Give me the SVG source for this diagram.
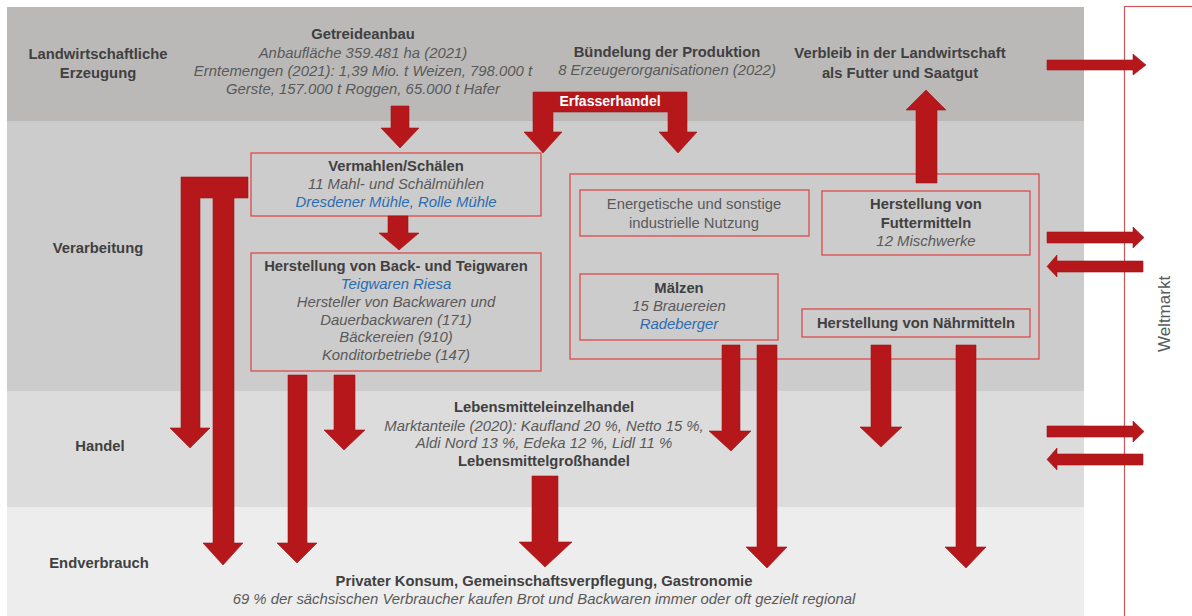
<svg xmlns="http://www.w3.org/2000/svg" width="1192" height="616" viewBox="0 0 1192 616">
<style>
text{font-family:"Liberation Sans",Arial,sans-serif;font-size:14.8px;text-anchor:middle}
.b{font-weight:bold;fill:#404040}
.i{font-style:italic;fill:#595959;font-size:14.9px}
.r{fill:#595959}
.bl{font-style:italic;fill:#2a6db0;font-size:14.9px}
.w{font-weight:bold;fill:#ffffff;font-size:14px}
.box{fill:none;stroke:#de4a4a;stroke-width:1.3}
.arr{fill:#b5171b;stroke:#9e1417;stroke-width:0.6}
</style>
<rect x="0" y="0" width="1192" height="616" fill="#ffffff"/>
<g id="bands">
<rect x="7" y="7" width="1077" height="114" fill="#bab9b8"/>
<rect x="7" y="121" width="1077" height="270" fill="#cdcccc"/>
<rect x="7" y="391" width="1077" height="116" fill="#dcdcdc"/>
<rect x="7" y="507" width="1077" height="109" fill="#ededed"/>
</g>
<g id="weltmarkt">
<rect x="1124.5" y="6.5" width="120" height="700" fill="none" stroke="#c9585a" stroke-width="1.2"/>
<text class="r" transform="translate(1170,314) rotate(-90)" style="font-size:17px">Weltmarkt</text>
</g>
<g id="labels">
<text class="b" x="98" y="59">Landwirtschaftliche</text>
<text class="b" x="98" y="78">Erzeugung</text>
<text class="b" x="98" y="253">Verarbeitung</text>
<text class="b" x="100" y="451">Handel</text>
<text class="b" x="99" y="568">Endverbrauch</text>
</g>
<g id="getreideanbau">
<text class="b" x="363" y="39">Getreideanbau</text>
<text class="i" x="363" y="58">Anbaufläche 359.481 ha (2021)</text>
<text class="i" x="363" y="76">Erntemengen (2021): 1,39 Mio. t Weizen, 798.000 t</text>
<text class="i" x="363" y="94">Gerste, 157.000 t Roggen, 65.000 t Hafer</text>
</g>
<g id="buendelung">
<text class="b" x="667" y="57">Bündelung der Produktion</text>
<text class="i" x="667" y="75">8 Erzeugerorganisationen (2022)</text>
</g>
<g id="verbleib">
<text class="b" x="900" y="58">Verbleib in der Landwirtschaft</text>
<text class="b" x="900" y="78">als Futter und Saatgut</text>
</g>
<g id="vermahlen">
<rect class="box" x="251" y="153" width="290" height="63"/>
<text class="b" x="396" y="171">Vermahlen/Schälen</text>
<text class="i" x="396" y="189">11 Mahl- und Schälmühlen</text>
<text class="bl" x="396" y="207">Dresdener Mühle, Rolle Mühle</text>
</g>
<g id="backwaren">
<rect class="box" x="251" y="253" width="290" height="118"/>
<text class="b" x="396" y="271">Herstellung von Back- und Teigwaren</text>
<text class="bl" x="396" y="289">Teigwaren Riesa</text>
<text class="i" x="396" y="307">Hersteller von Backwaren und</text>
<text class="i" x="396" y="325">Dauerbackwaren (171)</text>
<text class="i" x="396" y="342">Bäckereien (910)</text>
<text class="i" x="396" y="360">Konditorbetriebe (147)</text>
</g>
<g id="verarbeitung-rechts">
<rect class="box" x="570" y="174" width="469" height="185"/>
</g>
<g id="energetisch">
<rect class="box" x="580" y="190" width="229" height="46"/>
<text class="r" x="694" y="209">Energetische und sonstige</text>
<text class="r" x="694" y="228">industrielle Nutzung</text>
</g>
<g id="futtermittel">
<rect class="box" x="822" y="191" width="208" height="64"/>
<text class="b" x="926" y="209">Herstellung von</text>
<text class="b" x="926" y="228">Futtermitteln</text>
<text class="i" x="926" y="246">12 Mischwerke</text>
</g>
<g id="maelzen">
<rect class="box" x="580" y="274" width="198" height="66"/>
<text class="b" x="679" y="293">Mälzen</text>
<text class="i" x="679" y="311">15 Brauereien</text>
<text class="bl" x="679" y="329">Radeberger</text>
</g>
<g id="naehrmittel">
<rect class="box" x="802" y="309" width="228" height="28"/>
<text class="b" x="916" y="328">Herstellung von Nährmitteln</text>
</g>
<g id="handel">
<text class="b" x="544" y="412">Lebensmitteleinzelhandel</text>
<text class="i" x="544" y="431">Marktanteile (2020): Kaufland 20 %, Netto 15 %,</text>
<text class="i" x="544" y="448">Aldi Nord 13 %, Edeka 12 %, Lidl 11 %</text>
<text class="b" x="544" y="466">Lebensmittelgroßhandel</text>
</g>
<g id="endverbrauch">
<text class="b" x="544" y="586">Privater Konsum, Gemeinschaftsverpflegung, Gastronomie</text>
<text class="i" x="544" y="604">69 % der sächsischen Verbraucher kaufen Brot und Backwaren immer oder oft gezielt regional</text>
</g>
<g id="connectors">
<polygon class="arr" points="391,106 409,106 409,128 419,128 400,148 381,128 391,128"/>
<polygon class="arr" points="533,92 687,92 687,132 697,132 678,153 659,132 668,132 668,112 553,112 553,132 562,132 543,153 524,132 533,132"/>
<polygon class="arr" points="388,216 408,216 408,233 419,233 399,250 379,233 388,233"/>
<polygon class="arr" points="181,177 248,177 248,198 234,198 234,543 243,543 223,565 203,543 213,543 213,198 200,198 200,428 210,428 190,448 170,428 181,428"/>
<polygon class="arr" points="288,375 307,375 307,543 317,543 297,563 277,543 288,543"/>
<polygon class="arr" points="334,375 355,375 355,430 365,430 344,450 324,430 334,430"/>
<polygon class="arr" points="532,476 558,476 558,542 572,542 545,567 519,542 532,542"/>
<polygon class="arr" points="916,183 937,183 937,110 946,110 926,90 906,110 916,110"/>
<polygon class="arr" points="722,345 740,345 740,431 751,431 731,451 709,431 722,431"/>
<polygon class="arr" points="757,345 777,345 777,547 787,547 767,568 746,547 757,547"/>
<polygon class="arr" points="871,345 891,345 891,427 902,427 881,447 860,427 871,427"/>
<polygon class="arr" points="956,345 976,345 976,547 986,547 966,568 945,547 956,547"/>
<polygon class="arr" points="1047,60 1133,60 1133,54 1146,65 1133,75 1133,70 1047,70"/>
<polygon class="arr" points="1047,232 1133,232 1133,227 1144,237.5 1133,248 1133,243 1047,243"/>
<polygon class="arr" points="1143,261 1057,261 1057,255 1047,266.5 1057,277 1057,272 1143,272"/>
<polygon class="arr" points="1047,426 1133,426 1133,421 1144,431.5 1133,442 1133,437 1047,437"/>
<polygon class="arr" points="1143,454 1057,454 1057,448 1047,459.5 1057,470 1057,465 1143,465"/>
<text class="w" x="610" y="106">Erfasserhandel</text>
</g>
</svg>
